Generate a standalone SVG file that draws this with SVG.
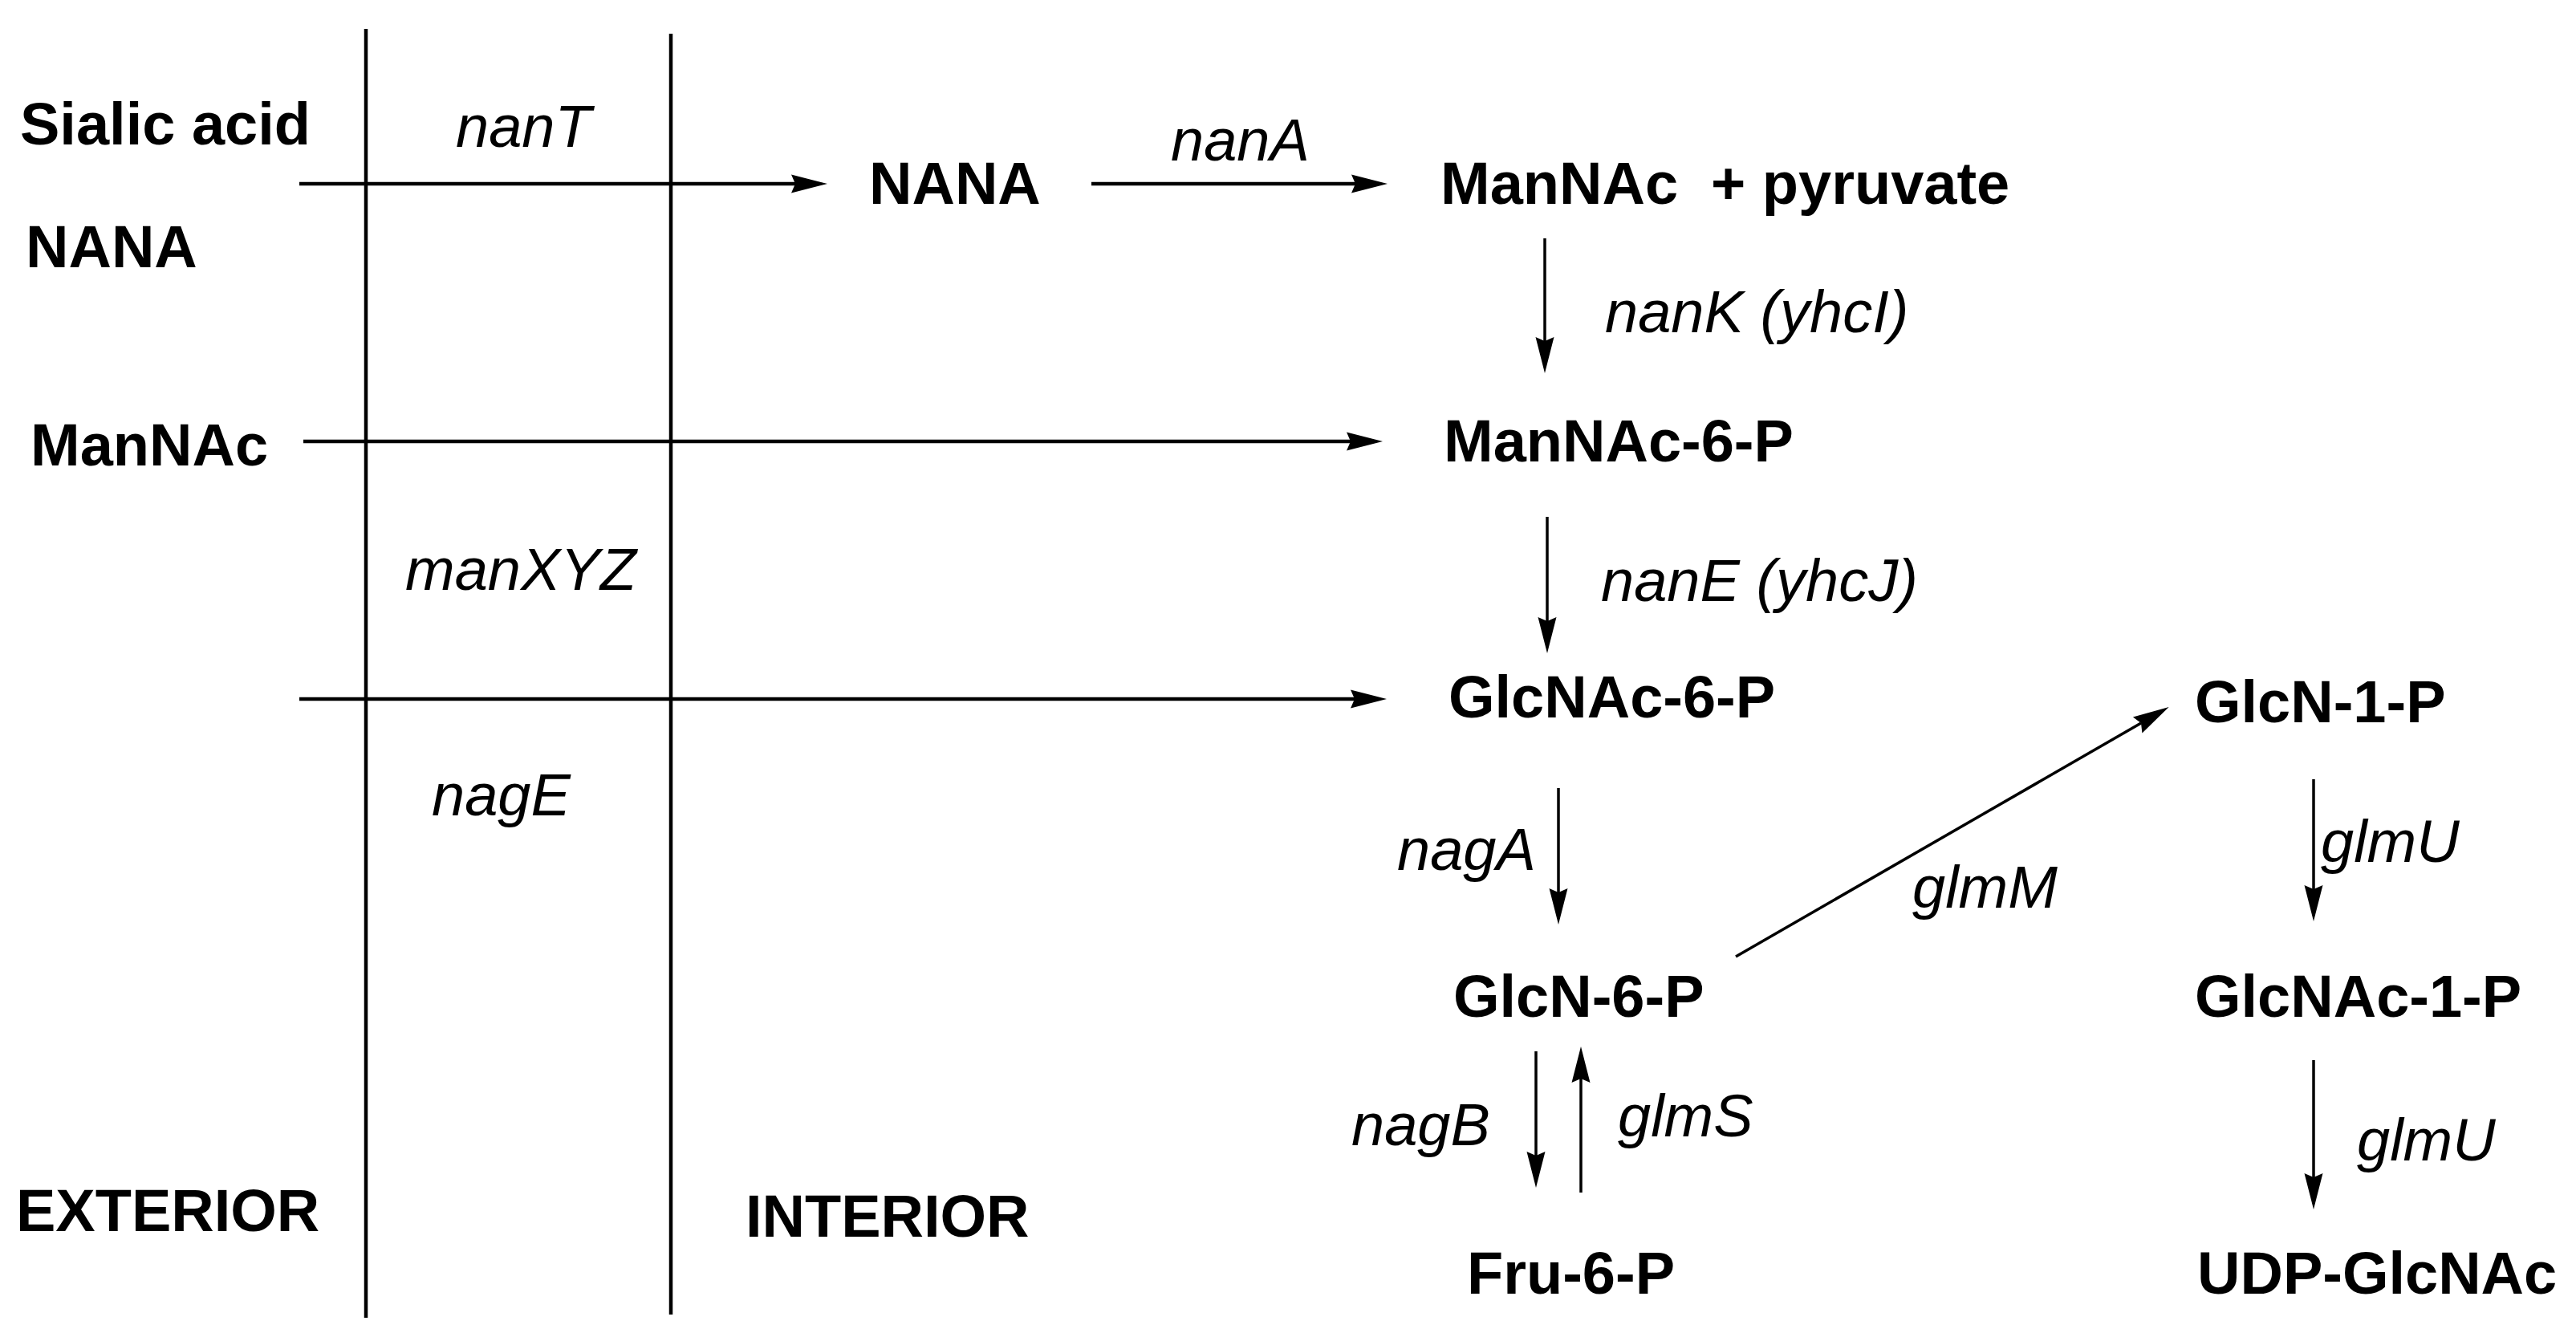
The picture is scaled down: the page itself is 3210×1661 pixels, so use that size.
<svg xmlns="http://www.w3.org/2000/svg" width="3210" height="1661" viewBox="0 0 3210 1661">
<style>
text{font-family:"Liberation Sans",Arial,sans-serif;font-size:74px;fill:#000}
.b{font-weight:bold}
.i{font-style:italic}
.mem{stroke:#000;stroke-width:4.5;fill:none}
.h{stroke:#000;stroke-width:4.5;fill:none;marker-end:url(#ah)}
.v{stroke:#000;stroke-width:3.5;fill:none;marker-end:url(#ah)}
</style>
<defs>
<marker id="ah" markerUnits="userSpaceOnUse" viewBox="-50 -15 55 30" refX="-40" refY="0" markerWidth="55" markerHeight="30" orient="auto">
<path d="M0,0 L-45,-11.5 L-40,0 L-45,11.5 Z" fill="#000"/>
</marker>
</defs>
<rect width="3210" height="1661" fill="#fff"/>
<g id="connectors">
<line class="mem" x1="456" y1="36" x2="456" y2="1642"/>
<line class="mem" x1="836" y1="42" x2="836" y2="1638"/>
<line class="h" x1="373" y1="229" x2="991" y2="229"/>
<line class="h" x1="1360" y1="229" x2="1689" y2="229"/>
<line class="h" x1="378" y1="550" x2="1683" y2="550"/>
<line class="h" x1="373" y1="871" x2="1688" y2="871"/>
<line class="v" x1="1925" y1="297" x2="1925" y2="425"/>
<line class="v" x1="1928" y1="644" x2="1928" y2="774"/>
<line class="v" x1="1942" y1="982" x2="1942" y2="1112"/>
<line class="v" x1="1914" y1="1310" x2="1914" y2="1440"/>
<line class="v" x1="1970" y1="1486" x2="1970" y2="1344"/>
<line class="v" x1="2883" y1="971" x2="2883" y2="1108"/>
<line class="v" x1="2883" y1="1321" x2="2883" y2="1467"/>
<line class="v" x1="2163" y1="1192" x2="2668" y2="901"/>
</g>
<g id="labels">
<text class="b" x="25" y="180">Sialic acid</text>
<text class="i" x="568" y="183">nanT</text>
<text class="b" x="32" y="333">NANA</text>
<text class="b" x="38" y="580">ManNAc</text>
<text class="i" x="505" y="735">manXYZ</text>
<text class="i" x="538" y="1016">nagE</text>
<text class="b" x="20" y="1534">EXTERIOR</text>
<text class="b" x="929" y="1541">INTERIOR</text>
<text class="i" x="1459" y="200">nanA</text>
<text class="i" x="2000" y="414">nanK (yhcI)</text>
<text class="i" x="1995" y="749">nanE (yhcJ)</text>
<text class="i" x="1741" y="1084">nagA</text>
<text class="i" x="2383" y="1131">glmM</text>
<text class="i" x="2892" y="1074">glmU</text>
<text class="i" x="1684" y="1427">nagB</text>
<text class="i" x="2016" y="1416">glmS</text>
<text class="i" x="2937" y="1446">glmU</text>
</g>
<g id="node-nana"><text class="b" x="1083" y="254">NANA</text></g>
<g id="node-mannac-pyruvate"><text class="b" x="1795" y="254">ManNAc<tspan x="2132">+ pyruvate</tspan></text></g>
<g id="node-mannac6p"><text class="b" x="1799" y="575">ManNAc-6-P</text></g>
<g id="node-glcnac6p"><text class="b" x="1805" y="894">GlcNAc-6-P</text></g>
<g id="node-glcn1p"><text class="b" x="2735" y="900">GlcN-1-P</text></g>
<g id="node-glcn6p"><text class="b" x="1811" y="1267">GlcN-6-P</text></g>
<g id="node-glcnac1p"><text class="b" x="2735" y="1267">GlcNAc-1-P</text></g>
<g id="node-fru6p"><text class="b" x="1828" y="1612">Fru-6-P</text></g>
<g id="node-udpglcnac"><text class="b" x="2738" y="1612">UDP-GlcNAc</text></g>
</svg>
